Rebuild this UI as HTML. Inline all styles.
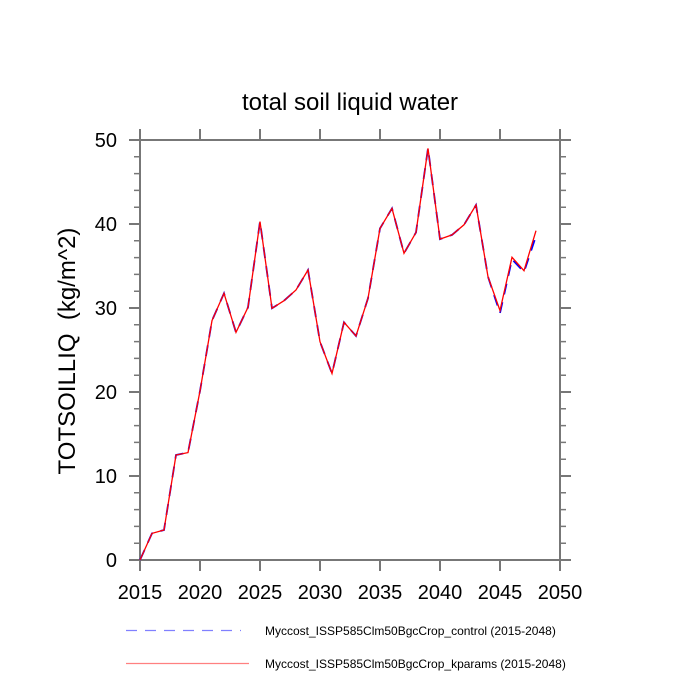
<!DOCTYPE html>
<html><head><meta charset="utf-8"><style>
html,body{margin:0;padding:0;background:#fff;}
svg{display:block;}
text{font-family:"Liberation Sans",Arial,Helvetica,sans-serif;fill:#000;}
</style></head><body>
<svg width="700" height="700" viewBox="0 0 700 700" xmlns="http://www.w3.org/2000/svg">
<rect width="700" height="700" fill="#fff"/>
<text x="350" y="110" font-size="24" text-anchor="middle">total soil liquid water</text>
<g stroke="#777" stroke-width="2" fill="none">
<rect x="140" y="140" width="420" height="420"/>
<path d="M140 560v11M200 560v11M260 560v11M320 560v11M380 560v11M440 560v11M500 560v11M560 560v11
M140 140v-11M200 140v-11M260 140v-11M320 140v-11M380 140v-11M440 140v-11M500 140v-11M560 140v-11
M140 560h-11M140 476h-11M140 392h-11M140 308h-11M140 224h-11M140 140h-11
M560 560h11M560 476h11M560 392h11M560 308h11M560 224h11M560 140h11"/>
</g>
<g stroke="#777" stroke-width="1.5" fill="none">
<path d="M140 543.2h-6M140 526.4h-6M140 509.6h-6M140 492.8h-6M140 459.2h-6M140 442.4h-6M140 425.6h-6M140 408.8h-6M140 375.2h-6M140 358.4h-6M140 341.6h-6M140 324.8h-6M140 291.2h-6M140 274.4h-6M140 257.6h-6M140 240.8h-6M140 207.2h-6M140 190.4h-6M140 173.6h-6M140 156.8h-6
M560 543.2h6M560 526.4h6M560 509.6h6M560 492.8h6M560 459.2h6M560 442.4h6M560 425.6h6M560 408.8h6M560 375.2h6M560 358.4h6M560 341.6h6M560 324.8h6M560 291.2h6M560 274.4h6M560 257.6h6M560 240.8h6M560 207.2h6M560 190.4h6M560 173.6h6M560 156.8h6"/>
</g>
<g font-size="20" text-anchor="end">
<text x="117" y="567">0</text>
<text x="117" y="483">10</text>
<text x="117" y="399">20</text>
<text x="117" y="315">30</text>
<text x="117" y="231">40</text>
<text x="117" y="147">50</text>
</g>
<g font-size="20" text-anchor="middle">
<text x="140" y="599">2015</text>
<text x="200" y="599">2020</text>
<text x="260" y="599">2025</text>
<text x="320" y="599">2030</text>
<text x="380" y="599">2035</text>
<text x="440" y="599">2040</text>
<text x="500" y="599">2045</text>
<text x="560" y="599">2050</text>
</g>
<text transform="translate(75,351) rotate(-90)" font-size="24" text-anchor="middle" xml:space="preserve">TOTSOILLIQ  (kg/m^2)</text>
<polyline fill="none" stroke="#0000ff" stroke-width="1.8" stroke-dasharray="11,8" points="140,560 152,533.4 164,530 176,455 188,452.6 200,391 212,320.6 224,293.3 236,332.4 248,307.3 260,221.6 272,308.3 284,300.7 296,290 308,270 320,341.7 332,373.5 344,322.3 356,336 368,298.3 380,228.4 392,208.4 404,253.3 416,232.4 428,148.4 440,239.1 452,234.9 464,224.8 476,205 488,276.7 500,313 512,259.3 524,272 536,236"/>
<polyline fill="none" stroke="#ff0000" stroke-width="1.3" points="140,560 152,533.4 164,530 176,455 188,452.6 200,391 212,320.6 224,293.3 236,332.4 248,307.3 260,221.6 272,308.3 284,300.7 296,290 308,270 320,341.7 332,373.5 344,322.3 356,336 368,298.3 380,228.4 392,208.4 404,253.3 416,232.4 428,148.4 440,239.1 452,234.9 464,224.8 476,205 488,276.7 500,310.5 512,257.3 524,270.7 536,230.7"/>
<line x1="126" y1="630.5" x2="241" y2="630.5" stroke="#8080ff" stroke-width="1.2" stroke-dasharray="11,8"/>
<line x1="126" y1="663.5" x2="249" y2="663.5" stroke="#ff8080" stroke-width="1.2"/>
<text x="265" y="635" font-size="12">Myccost_ISSP585Clm50BgcCrop_control (2015-2048)</text>
<text x="265" y="668" font-size="12">Myccost_ISSP585Clm50BgcCrop_kparams (2015-2048)</text>
</svg>
</body></html>
